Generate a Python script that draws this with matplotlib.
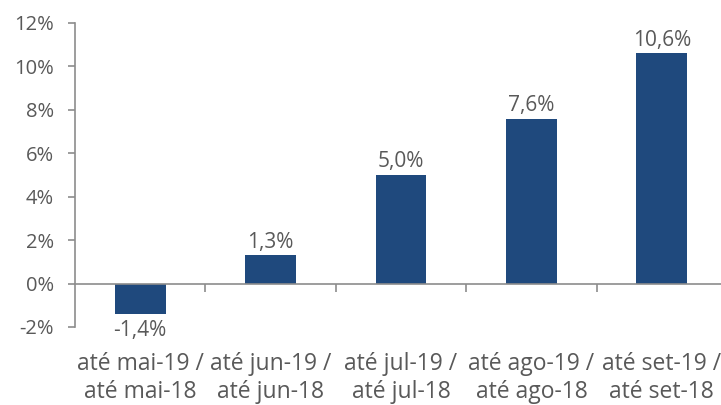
import matplotlib
matplotlib.use("Agg")
import matplotlib.pyplot as plt

categories = ["até mai-19 /\naté mai-18", "até jun-19 /\naté jun-18", "até jul-19 /\naté jul-18",
              "até ago-19 /\naté ago-18", "até set-19 /\naté set-18"]
values = [-1.4, 1.3, 5.0, 7.6, 10.6]
value_labels = ["-1,4%", "1,3%", "5,0%", "7,6%", "10,6%"]
yticks = [-2, 0, 2, 4, 6, 8, 10, 12]
ytick_labels = ["-2%", "0%", "2%", "4%", "6%", "8%", "10%", "12%"]

plt.rcParams['font.family'] = ['Open Sans', 'DejaVu Sans']
txt = '#595959'
axc = '#8c8c8c'
barc = '#1F497D'
fs = 14.5

fig = plt.figure(figsize=(7.21, 4.05), dpi=100)
ax = fig.add_axes([75/721, 78/405, 652/721, 304/405])
x = list(range(len(values)))
ax.bar(x, values, width=0.39, color=barc, zorder=2)
ax.set_xlim(-0.5, len(values) - 0.5)
ax.set_ylim(-2, 12)
ax.set_yticks(yticks)
ax.set_yticklabels(ytick_labels, fontsize=fs, color=txt)
ax.spines['top'].set_visible(False)
ax.spines['right'].set_visible(False)
ax.spines['bottom'].set_position(('data', 0))
for s in ['left', 'bottom']:
    ax.spines[s].set_color(axc)
    ax.spines[s].set_linewidth(1.2)
ax.tick_params(axis='y', direction='out', length=5, color=axc, width=1.2, pad=10)
ax.set_xticks([i + 0.5 for i in range(len(values) - 1)])
ax.set_xticklabels([])
ax.tick_params(axis='x', direction='out', length=6, color=axc, width=1.2)

for xi, v, lab in zip(x, values, value_labels):
    if v >= 0:
        ax.annotate(lab, (xi, v), xytext=(0, 2), textcoords='offset points',
                    ha='center', va='bottom', fontsize=fs + 0.5, color=txt)
    else:
        ax.annotate(lab, (xi, v), xytext=(0, -4), textcoords='offset points',
                    ha='center', va='top', fontsize=fs + 0.5, color=txt)

for xi, c in zip(x, categories):
    ax.text(xi, -0.083, c, transform=ax.get_xaxis_transform(), ha='center', va='top',
            fontsize=16.5, color=txt, linespacing=1.2, clip_on=False)

fig.savefig("out.png", dpi=100)
